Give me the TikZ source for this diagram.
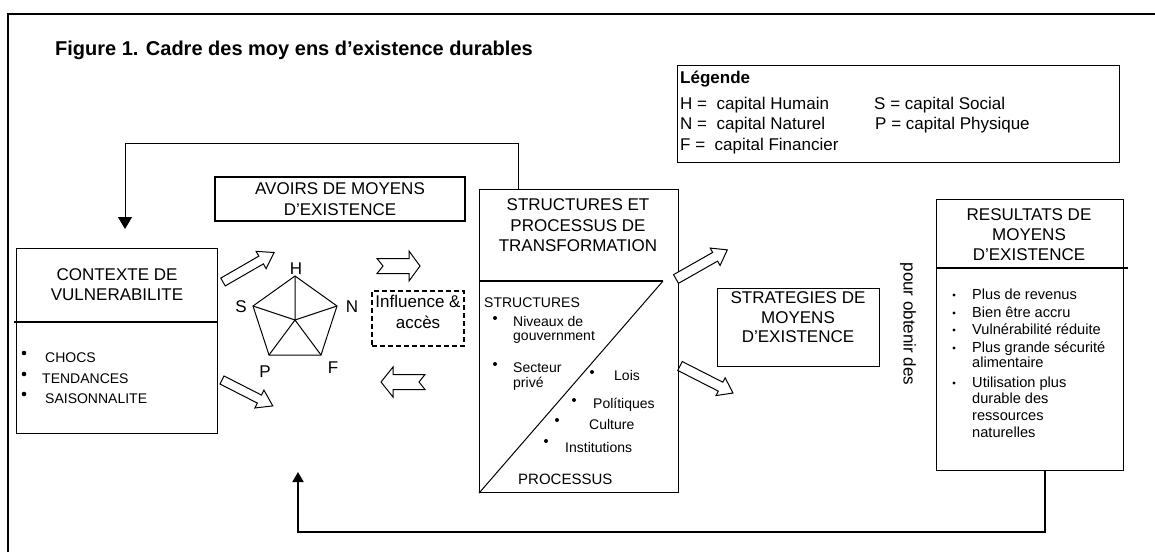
\documentclass[tikz,border=0pt]{standalone}
\usepackage{fontspec}
\setmainfont{Liberation Sans}
\usetikzlibrary{arrows.meta,calc}
\newcommand\blkarrow[7]{%
  \draw[blk, shift={#1}, rotate=#2] (0,-#4) -- ({#3-#6},-#4) -- ({#3-#6},-#5) -- (#3,0) -- ({#3-#6},#5) -- ({#3-#6},#4) -- (0,#4) -- (#7,0) -- cycle;}
\begin{document}
\begin{tikzpicture}[x=1pt,y=-1pt,
  box/.style={draw, line width=1.1pt, inner sep=0pt},
  ttl/.style={align=center, inner sep=0pt, font=\fontsize{17}{20.5}\selectfont},
  lbl/.style={inner sep=0pt, anchor=base west},
  lgd/.style={lbl, font=\fontsize{17}{20}\selectfont},
  sm/.style={lbl, font=\fontsize{14}{16}\selectfont},
  rs/.style={lbl, font=\fontsize{14.6}{17}\selectfont},
  pl/.style={inner sep=0pt, font=\fontsize{17}{20}\selectfont},
  blk/.style={draw, line width=1pt, fill=white, line join=miter},
  conn/.style={draw, line width=1pt},
]
\useasboundingbox (0,0) rectangle (1155,552);
\fill[white] (0,0) rectangle (1155,552);

% frame
\draw[line width=1.3pt] (8,552) -- (8,14) -- (1155,14);

% title
\node[lbl, font=\bfseries\fontsize{20}{23}\selectfont] (title) at (55,55) {Figure 1. Cadre des moy ens d'existence durables};

% legend
\node[box, minimum width=442, minimum height=97, anchor=north west] (leg) at (677,65) {};
\node[lbl, font=\bfseries\fontsize{17}{20}\selectfont] (legT) at (680,83) {Légende};
\node[lgd] (legH) at (680,109) {H = \ capital Humain};
\node[lgd] (legN) at (680,129) {N = \ capital Naturel};
\node[lgd] (legF) at (680,150) {F = \ capital Financier};
\node[lgd] (legS) at (874,109) {S = capital Social};
\node[lgd] (legP) at (875,129) {P = capital Physique};

% contexte
\node[box, minimum width=201, minimum height=185, anchor=north west] (ctx) at (16,248) {};
\draw[line width=1.1pt] ([xshift=-2pt,yshift=-74pt]ctx.north west) -- ([yshift=-74pt]ctx.north east);
\node[ttl] (ctxT) at (117,284.4) {CONTEXTE DE\\VULNERABILITE};
\fill (24,353) circle (2.3);
\fill (24,374) circle (2.3);
\fill (24,394) circle (2.3);
\node[sm] (c1) at (45,362) {CHOCS};
\node[sm] (c2) at (42,383) {TENDANCES};
\node[sm] (c3) at (45,403) {SAISONNALITE};

% avoirs
\node[box, ttl, draw, line width=1.1pt, minimum width=250, minimum height=44] (avo) at (340,199) {AVOIRS DE MOYENS\\D'EXISTENCE};

% pentagon
\coordinate (pH) at (295,276);
\coordinate (pN) at (337,306);
\coordinate (pF) at (321,355);
\coordinate (pP) at (269,355);
\coordinate (pS) at (253,306);
\coordinate (pC) at (295,320);
\draw[line width=1pt, line join=miter] (pH) -- (pN) -- (pF) -- (pP) -- (pS) -- cycle;
\draw[line width=1pt] (pC) -- (pH) (pC) -- (pN) (pC) -- (pF) (pC) -- (pP) (pC) -- (pS);
\node[pl] (lH) at (296,269) {H};
\node[pl] (lS) at (241,307) {S};
\node[pl] (lN) at (352,307) {N};
\node[pl] (lP) at (265,372) {P};
\node[pl] (lF) at (333,368) {F};

% influence
\node[draw, line width=1.1pt, dash pattern=on 5pt off 3pt, minimum width=92, minimum height=55, inner sep=0pt] (inf) at (418,318.5) {};
\node[ttl] (infT) at (418,311.8) {Influence \&\\accès};

% structures
\node[box, minimum width=199, minimum height=303, anchor=north west] (str) at (479,189) {};
\coordinate (dv) at (663,281);
\draw[line width=1.1pt] (str.west |- dv) -- (dv);
\draw[line width=1pt] (dv) -- (str.south west);
\node[ttl] (strT) at (578,225.4) {STRUCTURES ET\\PROCESSUS DE\\TRANSFORMATION};
\node[sm] (s0) at (484,307) {STRUCTURES};
\fill (495,318) circle (2);
\node[sm] (s1) at (513,326) {Niveaux de};
\node[sm] (s1b) at (513,340) {gouvernment};
\fill (495,364) circle (2);
\node[sm] (s2) at (513,372) {Secteur};
\node[sm] (s2b) at (513,387) {privé};
\fill (592,372) circle (2);
\node[sm] (s3) at (614,380) {Lois};
\fill (574,400) circle (2);
\node[sm] (s4) at (593,408) {Polítiques};
\fill (557,420) circle (2);
\node[sm] (s5) at (589,429) {Culture};
\fill (546,441) circle (2);
\node[sm] (s6) at (565,452) {Institutions};
\node[lbl, font=\fontsize{15}{17}\selectfont] (s7) at (518,484) {PROCESSUS};

% strategies
\node[box, minimum width=162, minimum height=78, anchor=north west] (stg) at (717,288) {};
\node[ttl, font=\fontsize{17}{19.5}\selectfont] (stgT) at (798,317.4) {STRATEGIES DE\\MOYENS\\D'EXISTENCE};

\node[pl, rotate=-90] (pod) at (908,324) {pour obtenir des};

% resultats
\node[box, minimum width=187, minimum height=271, anchor=north west] (res) at (936,199) {};
\draw[line width=1.1pt] (res.west |- 0,268) -- (1128,268);
\node[ttl, font=\fontsize{17}{20}\selectfont] (resT) at (1029,234.9) {RESULTATS DE\\MOYENS\\D'EXISTENCE};
\foreach \yy/\tt [count=\i] in {299/Plus de revenus, 317/Bien être accru, 334/Vulnérabilité réduite, 352/Plus grande sécurité, 367/alimentaire, 387/Utilisation plus, 403/durable des, 420/ressources, 437/naturelles}{
  \node[rs] (r\i) at (972,\yy) {\tt};
}
\foreach \yy in {299,317,334,352,387}{ \fill (954,\yy-4) circle (1.7); }

% feedback connectors
\coordinate (fb1) at (518,143);
\coordinate (fb2) at (125,143);
\coordinate (fbtip) at (125,229);
\draw[conn, -{Triangle[length=12pt,width=14pt]}] (str.north -| fb1) -- (fb1) -- (fb2) -- (fbtip);
\coordinate (bb1) at (1045,532);
\coordinate (bb2) at (298,532);
\coordinate (bbtip) at (298,472);
\draw[draw, line width=2pt, -{Triangle[length=10pt,width=11pt]}] (res.south -| bb1) -- (bb1) -- (bb2) -- (bbtip);

% block arrows
\blkarrow{(223,282)}{30}{59}{4.5}{10}{15}{0}
\blkarrow{(222,380)}{-27}{57}{4.5}{10}{15}{0}
\blkarrow{(676,279)}{29.6}{59}{5}{10}{14}{0}
\blkarrow{(680,366)}{-27}{59.5}{5}{10}{14}{0}
\blkarrow{(377,266)}{0}{43}{7.5}{15}{11}{6}
\blkarrow{(425,382)}{180}{44}{7.5}{15}{12}{6}
\end{tikzpicture}
\end{document}
